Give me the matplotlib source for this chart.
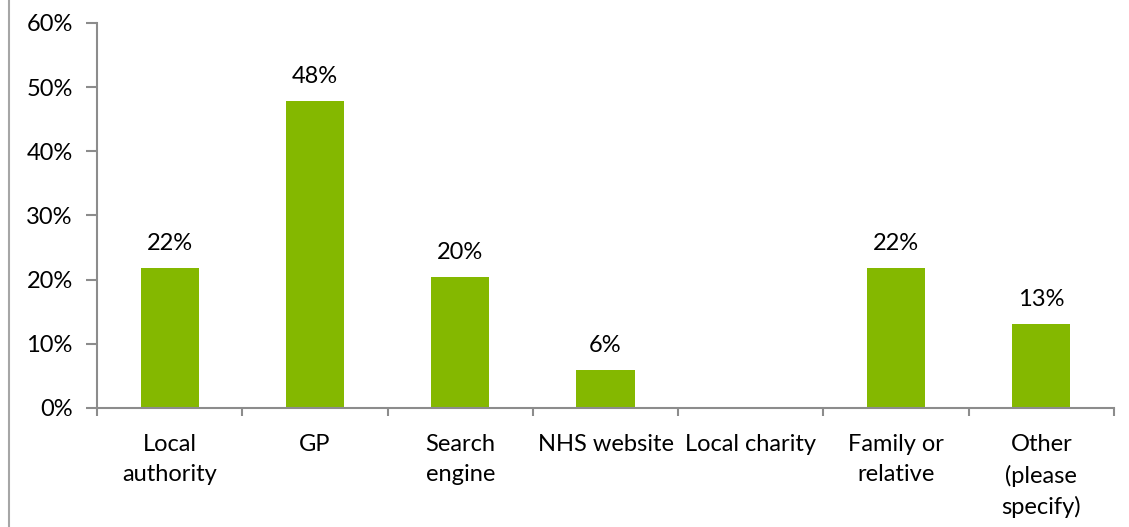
import matplotlib
matplotlib.use("Agg")
import matplotlib.pyplot as plt
import numpy as np
from matplotlib.lines import Line2D

categories = ["Local\nauthority", "GP", "Search\nengine", "NHS website",
              "Local charity", "Family or\nrelative", "Other\n(please\nspecify)"]
values = [21.8, 47.8, 20.4, 5.9, 0, 21.8, 13.1]
y_ticks = [0, 10, 20, 30, 40, 50, 60]

plt.rcParams['font.family'] = ['Lato', 'DejaVu Sans']
green = '#84b800'
grey = '#8c8c8c'
fs = 17

fig = plt.figure(figsize=(11.29, 5.27), dpi=100)
ax = fig.add_axes([97/1129, 1 - 408/527, (1114 - 97)/1129, (408 - 23)/527])

x = np.arange(len(categories))
ax.bar(x, values, width=0.4, color=green)
for xi, v in zip(x, values):
    if v > 0:
        ax.text(xi, v + 2.2, f"{v:.0f}%", ha='center', va='bottom', fontsize=fs)

ax.set_xlim(-0.5, len(categories) - 0.5)
ax.set_ylim(0, 60)
ax.set_yticks(y_ticks)
ax.set_yticklabels([f"{t}%" for t in y_ticks], fontsize=fs)

# boundary ticks between categories, labels centred under bars
ax.set_xticks(np.arange(-0.5, len(categories), 1.0))
ax.set_xticklabels([])
ax.set_xticks(x, minor=True)
ax.set_xticklabels(categories, minor=True, fontsize=fs, linespacing=1.5, va='top')
ax.tick_params(axis='x', which='minor', length=0, pad=19)
ax.tick_params(axis='x', which='major', length=6, color=grey, width=1.5)
ax.tick_params(axis='y', length=8, color=grey, width=1.5, pad=9.5)

for s in ['top', 'right']:
    ax.spines[s].set_visible(False)
for s in ['left', 'bottom']:
    ax.spines[s].set_color(grey)
    ax.spines[s].set_linewidth(1.5)

# outer frame line on the left
fig.add_artist(Line2D([9/1129, 9/1129], [0, 1], transform=fig.transFigure,
                      color='#a6a6a6', linewidth=1.5))

fig.savefig("out.png", dpi=100)
